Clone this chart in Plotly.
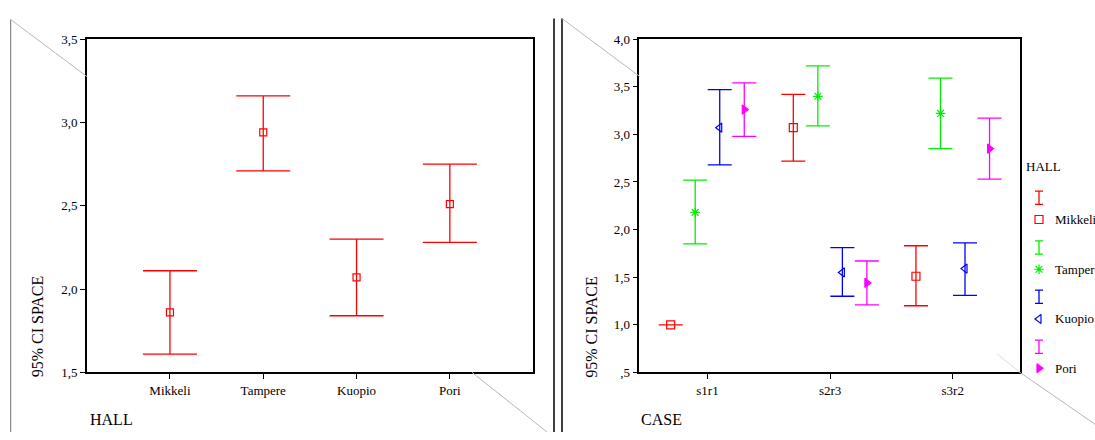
import plotly.graph_objects as go

# ---------------- data ----------------
halls = ["Mikkeli", "Tampere", "Kuopio", "Pori"]
hall_mean = [1.86, 2.94, 2.07, 2.51]
hall_lower = [1.61, 2.71, 1.84, 2.28]
hall_upper = [2.11, 3.16, 2.30, 2.75]

cases = ["s1r1", "s2r3", "s3r2"]
mikkeli_mean = [1.00, 3.07, 1.51]
mikkeli_lower = [1.00, 2.72, 1.20]
mikkeli_upper = [1.00, 3.42, 1.83]
tampere_mean = [2.18, 3.40, 3.22]
tampere_lower = [1.85, 3.09, 2.85]
tampere_upper = [2.52, 3.72, 3.59]
kuopio_mean = [3.07, 1.55, 1.59]
kuopio_lower = [2.68, 1.30, 1.31]
kuopio_upper = [3.47, 1.81, 1.86]
pori_mean = [3.26, 1.44, 2.85]
pori_lower = [2.98, 1.21, 2.53]
pori_upper = [3.54, 1.67, 3.17]

left_ticks = [1.5, 2.0, 2.5, 3.0, 3.5]
left_ticktext = ["1,5", "2,0", "2,5", "3,0", "3,5"]
right_ticks = [0.5, 1.0, 1.5, 2.0, 2.5, 3.0, 3.5, 4.0]
right_ticktext = [",5", "1,0", "1,5", "2,0", "2,5", "3,0", "3,5", "4,0"]

W, H = 1095, 440
FONT = "Liberation Serif"


def px(x):
    return x / W


def py(y):
    return 1 - y / H


fig = go.Figure()

# ---------------- left panel ----------------
fig.add_trace(go.Scatter(
    x=list(range(len(halls))), y=hall_mean, mode="markers",
    marker=dict(symbol="square-open", size=7, color="#ff0000", line=dict(width=1.2)),
    error_y=dict(type="data", symmetric=False,
                 array=[u - m for u, m in zip(hall_upper, hall_mean)],
                 arrayminus=[m - l for m, l in zip(hall_mean, hall_lower)],
                 color="#ff0000", thickness=1.3, width=27),
    xaxis="x", yaxis="y", showlegend=False, cliponaxis=False))

# ---------------- right panel ----------------
series = [
    ("Mikkeli", mikkeli_mean, mikkeli_lower, mikkeli_upper, "#ff0000", "square-open", -0.3),
    ("Tampere", tampere_mean, tampere_lower, tampere_upper, "#00ee00", "asterisk-open", -0.1),
    ("Kuopio", kuopio_mean, kuopio_lower, kuopio_upper, "#0000ff", "triangle-left-open", 0.1),
    ("Pori", pori_mean, pori_lower, pori_upper, "#ff00ff", "triangle-right", 0.3),
]
for name, mean, lower, upper, col, sym, off in series:
    fig.add_trace(go.Scatter(
        x=[i + off for i in range(len(cases))], y=mean, mode="markers", name=name,
        marker=dict(symbol=sym, size=8, color=col, line=dict(width=1.2, color=col)),
        error_y=dict(type="data", symmetric=False,
                     array=[u - m for u, m in zip(upper, mean)],
                     arrayminus=[m - l for m, l in zip(mean, lower)],
                     color=col, thickness=1.3, width=12),
        xaxis="x2", yaxis="y2", showlegend=False, cliponaxis=False))

# ---------------- legend (drawn on its own pixel-unit axes) ----------------
leg_bar_y = [197.5, 249, 300, 351.7]
leg_mark_y = [220, 271.5, 323, 374]
for (name, mean, lower, upper, col, sym, off), by, my in zip(series, leg_bar_y, leg_mark_y):
    fig.add_trace(go.Scatter(
        x=[1039], y=[by], mode="markers", marker=dict(size=1, color="rgba(0,0,0,0)"),
        error_y=dict(type="constant", value=6.8, color=col, thickness=1.3, width=4),
        xaxis="x3", yaxis="y3", showlegend=False, hoverinfo="skip"))
    fig.add_trace(go.Scatter(
        x=[1039], y=[my], mode="markers",
        marker=dict(symbol=sym, size=8, color=col, line=dict(width=1.2, color=col)),
        xaxis="x3", yaxis="y3", showlegend=False, hoverinfo="skip"))
    fig.add_annotation(x=1053, y=my, xref="x3", yref="y3", text=name, showarrow=False,
                       xanchor="left", yanchor="middle",
                       font=dict(family=FONT, size=13, color="black"))
fig.add_annotation(x=1024, y=165, xref="x3", yref="y3", text="HALL", showarrow=False,
                   xanchor="left", yanchor="middle",
                   font=dict(family=FONT, size=13, color="black"))

# ---------------- axes ----------------
ax_common = dict(showgrid=False, zeroline=False, showline=True, linecolor="black",
                 linewidth=1.5, mirror=True, ticks="outside", ticklen=5, tickwidth=1,
                 tickcolor="black", tickfont=dict(family=FONT, size=13, color="black"))

y_top, y_bot = 33.3, 378.3
fig.update_layout(
    width=W, height=H, margin=dict(l=0, r=0, t=0, b=0),
    paper_bgcolor="white", plot_bgcolor="white",
    xaxis=dict(domain=[px(86.9), px(532.9)], range=[-0.89, 3.89],
               tickvals=list(range(len(halls))), ticktext=halls, anchor="y", **ax_common),
    yaxis=dict(domain=[py(y_bot), py(y_top)], range=[1.5, 3.5],
               tickvals=left_ticks, ticktext=left_ticktext, anchor="x", **ax_common),
    xaxis2=dict(domain=[px(639.4), px(1020.2)], range=[-0.555, 2.55],
                tickvals=list(range(len(cases))), ticktext=cases, anchor="y2", **ax_common),
    yaxis2=dict(domain=[py(y_bot), py(y_top)], range=[0.5, 4.0],
                tickvals=right_ticks, ticktext=right_ticktext, anchor="x2", **ax_common),
    xaxis3=dict(domain=[px(1022), 1], range=[1022, 1095], visible=False, anchor="y3"),
    yaxis3=dict(domain=[0, 1], range=[440, 0], visible=False, anchor="x3"),
)

# axis titles
for x, txt in [(87.6, "HALL"), (639.4, "CASE")]:
    fig.add_annotation(x=px(x), y=py(427), xref="paper", yref="paper", text=txt,
                       showarrow=False, xanchor="left", yanchor="middle",
                       font=dict(family=FONT, size=16, color="black"))
for x in [37.5, 592]:
    fig.add_annotation(x=px(x), y=py(386), xref="paper", yref="paper", text="95% CI SPACE",
                       showarrow=False, textangle=-90, xanchor="center", yanchor="bottom",
                       font=dict(family=FONT, size=16, color="black"))

# frame decorations
def seg(x0, y0, x1, y1, color, width):
    fig.add_shape(type="line", xref="paper", yref="paper",
                  x0=px(x0), y0=py(y0), x1=px(x1), y1=py(y1),
                  line=dict(color=color, width=width))

seg(10.7, 13, 10.7, 440, "#707070", 1)
seg(10.7, 13, 86.9, 72, "#b8b8b8", 1)
seg(472, 378.3, 547, 440, "#b8b8b8", 1)
seg(554, 12, 554, 440, "black", 1.5)
seg(562, 12, 562, 440, "black", 1.5)
seg(562, 12, 639.4, 71.7, "#b8b8b8", 1)
seg(997, 359, 1020, 378.3, "#dddddd", 1)
seg(1020, 378.3, 1095, 432, "#b8b8b8", 1)

fig.write_html("out.html", config={"displayModeBar": False},
               post_script="document.body.style.margin='0';document.body.style.overflow='hidden';")
